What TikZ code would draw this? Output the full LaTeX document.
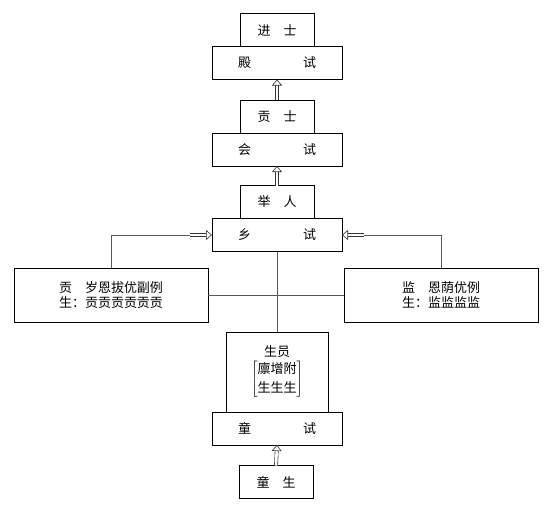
\documentclass[tikz,border=0pt]{standalone}
\usepackage{fontspec}
\setmainfont{Noto Sans CJK SC}
\usetikzlibrary{arrows.meta, positioning, calc}

\begin{document}
\begin{tikzpicture}[x=1pt, y=-1pt, every node/.style={outer sep=0pt},
    box/.style={draw, line width=0.9pt, inner sep=0pt, minimum height=33pt, font=\fontsize{13}{15}\selectfont},
    narrow/.style={box, minimum width=74pt},
    wide/.style={box, minimum width=130pt},
    side/.style={box, minimum width=194pt, minimum height=54pt, align=center},
    link/.style={draw=black!65, line width=0.5pt},
    up/.style={draw=black!80, double, double distance=2.6pt, line width=0.6pt,
        -{Triangle[open, fill=white, line width=0.6pt, length=6pt, width=10pt]}}]
    \useasboundingbox (0,0) rectangle (549,504);

    % Palace and metropolitan exams
    \node[wide] (dianshi) at (277,63) {殿　　　　试};
    \node[narrow, above=0pt of dianshi] (jinshi) {进　士};
    \node[wide] (huishi) at (277,149.5) {会　　　　试};
    \node[narrow, above=0pt of huishi] (gongshi) {贡　士};

    % Provincial exam
    \node[wide] (xiangshi) at (277,235) {乡　　　　试};
    \node[narrow, above=0pt of xiangshi] (juren) {举　人};

    % Side routes
    \node[side] (gongsheng) at (111,295) {贡　岁恩拔优副例\\生：贡贡贡贡贡贡};
    \node[side] (jiansheng) at (441,295) {监　恩荫优例\\生：监监监监};

    % Local exam
    \node[wide] (tongshi) at (277,428.5) {童　　　　试};
    \node[box, minimum width=102pt, minimum height=80pt, align=center, above=0pt of tongshi] (shengyuan)
        {生员\\[1pt]$\left[\renewcommand\arraystretch{1.3}\begin{tabular}{@{}c@{}}廪增附\\生生生\end{tabular}\right]$};
    \node[narrow] (tongsheng) at (276,482) {童　生};

    % Arrows up
    \draw[up] (gongshi.north) -- (dianshi.south);
    \draw[up] (juren.north) -- (huishi.south);
    \draw[up] (tongsheng.north) -- (tongshi.south);

    % Side arrows into the provincial exam
    \coordinate (lbend) at ($(xiangshi.west)+(-22,0)$);
    \coordinate (rbend) at ($(xiangshi.east)+(22,0)$);
    \draw[link] (gongsheng.north) |- (lbend);
    \draw[up] (lbend) -- (xiangshi.west);
    \draw[link] (jiansheng.north) |- (rbend);
    \draw[up] (rbend) -- (xiangshi.east);

    % Connecting lines
    \draw[link] (xiangshi.south) -- (shengyuan.north);
    \draw[link] (gongsheng.east) -- (jiansheng.west);
\end{tikzpicture}
\end{document}
